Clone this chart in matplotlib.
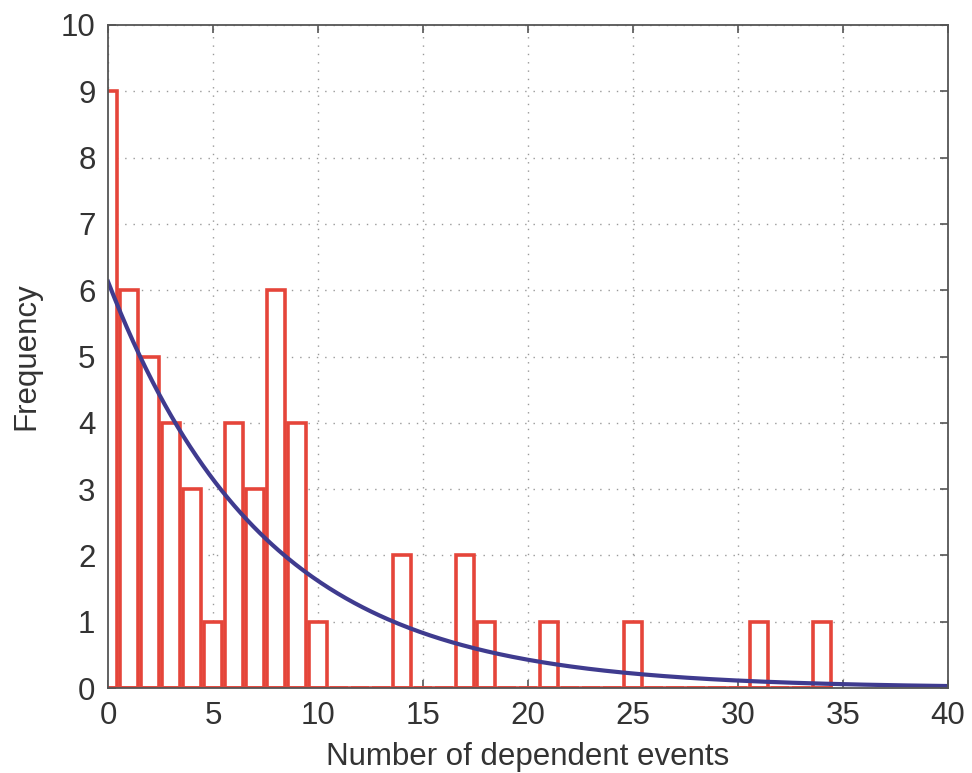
import numpy as np
import matplotlib
matplotlib.use("Agg")
import matplotlib.pyplot as plt

plt.rcParams['font.family'] = ['Liberation Sans', 'DejaVu Sans']

# histogram counts per number of dependent events (0..34)
events = list(range(0, 35))
counts = [9, 6, 5, 4, 3, 1, 4, 3, 6, 4, 1,
          0, 0, 0, 2, 0, 0, 2, 1, 0, 0, 1,
          0, 0, 0, 1, 0, 0, 0, 0, 0, 1, 0, 0, 1]

# fitted exponential: value at zero and decay length
fit_start = 6.13
fit_scale = 7.5

red = '#e5453a'
blue = '#3f3b8f'
grey = '#555555'

fig = plt.figure(figsize=(9.72, 7.73), dpi=100)
ax = fig.add_axes([108 / 972, 1 - 688 / 773, 840 / 972, 663 / 773])

bar_w = 0.82
ax.bar(events, counts, width=bar_w, facecolor='white', edgecolor=red,
       linewidth=2.6, zorder=2)
ax.plot([0, events[-1] + bar_w / 2], [0, 0], color=red, linewidth=2.6,
        zorder=2)

xs = np.linspace(0, 40, 400)
ax.plot(xs, fit_start * np.exp(-xs / fit_scale), color=blue, linewidth=3.0,
        zorder=3)

ax.set_xlim(0, 40)
ax.set_ylim(0, 10)
ax.set_xticks(range(0, 41, 5))
ax.set_yticks(range(0, 11))
ax.grid(True, linestyle=(0, (1, 5)), color='#999999', linewidth=1.0, zorder=0)
ax.set_axisbelow(True)

ax.tick_params(direction='in', length=6, width=1.2, colors=grey,
               labelsize=22.5, labelcolor='#333333', top=True, right=True, pad=9)
for s in ax.spines.values():
    s.set_color(grey)
    s.set_linewidth(1.3)
    s.set_zorder(4)

ax.set_xlabel('Number of dependent events', fontsize=22.5, color='#333333',
              labelpad=8)
ax.set_ylabel('Frequency', fontsize=22.5, color='#333333', labelpad=14)

fig.savefig('out.png', dpi=100)
